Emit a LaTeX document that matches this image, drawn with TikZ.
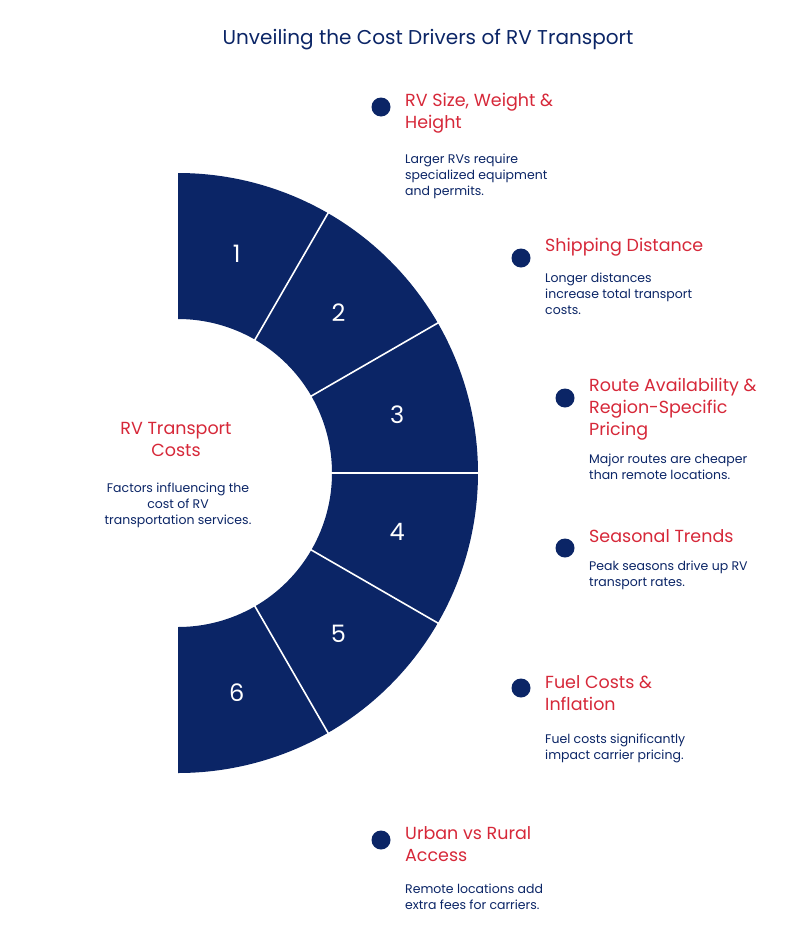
\documentclass[tikz,border=0pt]{standalone}
\usepackage{fontspec}
\setmainfont{Poppins}
\usetikzlibrary{calc}
\definecolor{navy}{HTML}{0B2566}
\definecolor{rvred}{HTML}{D62839}
\begin{document}
\begin{tikzpicture}[x=1pt,y=-1pt,
  num/.style={text=white,font=\fontsize{24}{28}\selectfont},
  dot/.style={circle,fill=navy,minimum size=19pt,inner sep=0pt},
  head/.style={anchor=north west,inner sep=0pt,align=left,text=rvred,font=\fontsize{17.5}{22}\selectfont},
  desc/.style={anchor=north west,inner sep=0pt,align=left,text=navy,font=\fontsize{12.5}{16}\selectfont}]
\useasboundingbox (0,0) rectangle (800,937);
\coordinate (c) at (178,473);
\foreach \i in {0,...,5}{
  \pgfmathsetmacro{\a}{90-30*\i}
  \pgfmathsetmacro{\b}{60-30*\i}
  \fill[navy] ($(c)+(\a:300 and -300)$) arc[start angle=-\a,end angle=-\b,radius=300] -- ($(c)+(\b:154 and -154)$) arc[start angle=-\b,end angle=-\a,radius=154] -- cycle;
}
\foreach \a in {60,30,0,-30,-60}{
  \draw[white,line width=1.6pt] ($(c)+(\a:152 and -152)$) -- ($(c)+(\a:302 and -302)$);
}
\foreach \n/\a in {1/75,2/45,3/15,4/-15,5/-45,6/-75}{
  \node[num] (n\n) at ($(c)+(\a:227 and -227)$) {\n};
}
\node[text=navy,font=\fontsize{20}{24}\selectfont] (title) at (428,40) {Unveiling the Cost Drivers of RV Transport};

\node[dot] (d1) at (381,107) {};
\node[head] (h1) at (405,93) {RV Size, Weight \&\\Height};
\node[desc] (t1) at (405,154) {Larger RVs require\\specialized equipment\\and permits.};

\node[dot] (d2) at (521,258) {};
\node[head] (h2) at (545,238) {Shipping Distance};
\node[desc] (t2) at (545,273) {Longer distances\\increase total transport\\costs.};

\node[dot] (d3) at (565,398) {};
\node[head] (h3) at (589,378) {Route Availability \&\\Region-Specific\\Pricing};
\node[desc] (t3) at (589,454) {Major routes are cheaper\\than remote locations.};

\node[dot] (d4) at (565,548) {};
\node[head] (h4) at (589,529) {Seasonal Trends};
\node[desc] (t4) at (589,561) {Peak seasons drive up RV\\transport rates.};

\node[dot] (d5) at (521,688) {};
\node[head] (h5) at (545,675) {Fuel Costs \&\\Inflation};
\node[desc] (t5) at (545,734) {Fuel costs significantly\\impact carrier pricing.};

\node[dot] (d6) at (381,840) {};
\node[head] (h6) at (405,826) {Urban vs Rural\\Access};
\node[desc] (t6) at (405,884) {Remote locations add\\extra fees for carriers.};

\node[head,anchor=north,align=center] (hl) at (176,422) {RV Transport\\Costs};
\node[desc,anchor=north,align=center] (tl) at (178,483) {Factors influencing the\\cost of RV\\transportation services.};
\end{tikzpicture}
\end{document}
